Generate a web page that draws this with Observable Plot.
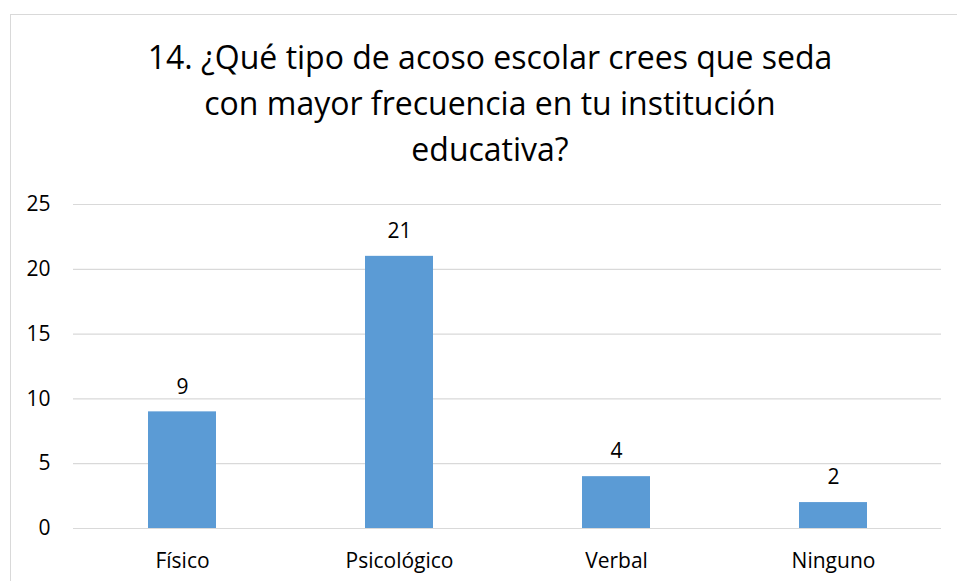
<!DOCTYPE html>
<html>
<head>
<meta charset="utf-8">
<script src="https://cdn.jsdelivr.net/npm/d3@7"></script>
<script src="https://cdn.jsdelivr.net/npm/@observablehq/plot@0.6"></script>
<style>
  html, body { margin: 0; padding: 0; background: #fff; overflow: hidden; }
  #wrap { position: relative; width: 957px; height: 581px; }
  #frame { position: absolute; left: 10px; top: 14px; width: 980px; height: 620px; border: 1px solid #d9d9d9; box-sizing: border-box; }
  #title { position: absolute; left: 10px; top: 34px; width: 960px; text-align: center;
           font-family: "Open Sans", sans-serif; font-size: 32px; line-height: 46px; color: #000; }
  #chart { position: absolute; left: 0; top: 0; }
</style>
</head>
<body>
<div id="wrap">
  <div id="frame"></div>
  <div id="chart"></div>
  <div id="title">14. ¿Qué tipo de acoso escolar crees que seda<br>con mayor frecuencia en tu institución<br>educativa?</div>
</div>
<script>
const categories = ["Físico", "Psicológico", "Verbal", "Ninguno"];
const values = [9, 21, 4, 2];
const yTicks = [0, 5, 10, 15, 20, 25];

const data = categories.map((c, i) => ({category: c, value: values[i]}));

const chart = Plot.plot({
  width: 957,
  height: 581,
  marginTop: 204,
  marginBottom: 53,
  marginLeft: 73,
  marginRight: 16,
  style: {fontFamily: "Open Sans, sans-serif", fontSize: "21px", color: "#000", background: "transparent"},
  x: {domain: categories, paddingInner: 0.687, paddingOuter: 0.3435, label: null},
  y: {domain: [0, 25], ticks: yTicks, label: null},
  marks: [
    Plot.gridY(yTicks, {stroke: "#d9d9d9", strokeOpacity: 1, strokeWidth: 1.2}),
    Plot.barY(data, {x: "category", y: "value", fill: "#5B9BD5"}),
    Plot.text(data, {x: "category", y: "value", text: d => String(d.value), dy: -25, fontSize: 21, fill: "#000"}),
    Plot.axisY({ticks: yTicks, tickSize: 0, tickPadding: 23, fontSize: 21, fill: "#000"}),
    Plot.axisX({tickSize: 0, tickPadding: 25, fontSize: 21, fill: "#000"})
  ]
});
document.getElementById("chart").appendChild(chart);
</script>
</body>
</html>
